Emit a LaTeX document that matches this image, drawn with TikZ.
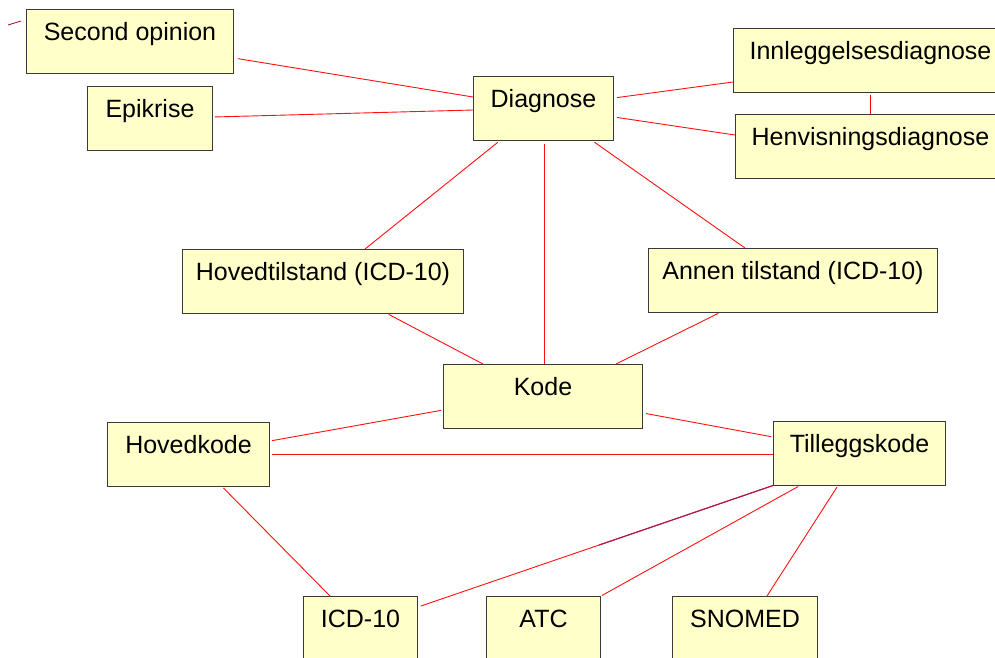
\documentclass[tikz,border=0pt]{standalone}
\usepackage{fontspec}
\setmainfont{Liberation Sans}
\usetikzlibrary{calc}
\definecolor{boxfill}{HTML}{FFFFCA}
\definecolor{boxline}{HTML}{3A3A3A}
\definecolor{linkred}{HTML}{FF1010}
\definecolor{linkdark}{HTML}{A8184C}
\tikzset{
  box/.style={draw=boxline, fill=boxfill, line width=1pt, rectangle,
    inner sep=0pt, text height=31pt, text depth=32.5pt, anchor=north west,
    font=\fontsize{25}{30}\selectfont},
  conn/.style={draw=linkred, line width=0.9pt},
  conndark/.style={draw=linkdark, line width=1.1pt}
}
\begin{document}
\begin{tikzpicture}[x=1pt, y=-1pt]
\clip (0,0) rectangle (995,657);
\fill[white] (0,0) rectangle (995,657);

% concept boxes
\node[box, minimum width=207pt] (so)     at (26,9)    {Second opinion};
\node[box, minimum width=125pt] (ep)     at (87,86)   {Epikrise};
\node[box, minimum width=140pt] (dg)     at (473,76)  {Diagnose};
\node[box, minimum width=274pt] (innl)   at (733,28)  {Innleggelsesdiagnose};
\node[box, minimum width=270pt] (henv)   at (735,114) {Henvisningsdiagnose};
\node[box, minimum width=281pt] (hovtil) at (182,249) {Hovedtilstand (ICD-10)};
\node[box, minimum width=289pt] (annen)  at (648,248) {Annen tilstand (ICD-10)};
\node[box, minimum width=199pt] (kode)   at (443,364) {Kode};
\node[box, minimum width=162pt] (hovk)   at (107,422) {Hovedkode};
\node[box, minimum width=172pt] (till)   at (773,421) {Tilleggskode};
\node[box, minimum width=114pt] (icd)    at (303,596) {ICD-10};
\node[box, minimum width=114pt] (atc)    at (486,596) {ATC};
\node[box, minimum width=145pt] (snomed) at (672,596) {SNOMED};

% loose link end on the left edge
\coordinate (strayA) at (8,25);
\coordinate (strayB) at (21,21);
\draw[conndark, line width=0.9pt] (strayA) -- (strayB);

% links around Diagnose
\draw[conn, shorten <=4pt] (so.east |- 0,58) -- (dg.west |- 0,97);
\draw[conn, shorten <=2pt] (ep.east |- 0,117) -- (dg.west |- 0,110);
\draw[conn, shorten <=3pt] (dg.east |- 0,98) -- (innl.west |- 0,82);
\draw[conn, shorten <=3pt] (dg.east |- 0,117) -- (henv.west |- 0,135);
\coordinate (innlB) at ([yshift=-2pt]innl.south);
\coordinate (henvT) at (henv.north);
\draw[draw=red, line width=1.3pt] (innlB) -- (innlB |- henvT);
\draw[conn, shorten <=3pt] (dg.south -| 500,0) -- (hovtil.north -| 365,0);
\draw[conn, shorten <=3pt] (dg.south -| 544,0) -- (kode.north -| 544,0);
\draw[conn, shorten <=3pt] (dg.south -| 592,0) -- (annen.north -| 745,0);

% links around Kode
\draw[conn, shorten <=2pt] (hovtil.south -| 387,0) -- (kode.north -| 483,0);
\draw[conn, shorten <=2pt] (annen.south -| 720,0) -- (kode.north -| 616,0);
\draw[conn, shorten <=2pt, shorten >=2pt] (kode.west |- 0,410) -- (hovk.east |- 0,441);
\draw[conn, shorten <=3pt, shorten >=2pt] (kode.east |- 0,413) -- (till.west |- 0,437);
\draw[conn, shorten <=2pt] (hovk.east |- 0,454) -- (till.west |- 0,454);

% links to the code systems
\draw[conn, shorten <=2pt] (hovk.south -| 222,0) -- (icd.north -| 330,0);
\coordinate (icdR) at (icd.east |- 0,607);
\draw[conn, shorten >=3pt] (till.south west) -- (icdR);
\draw[conndark] (till.south west) -- ($(till.south west)!0.49!(icdR)$);
\draw[conn, shorten <=2pt, shorten >=1pt] (till.south -| 800,0) -- (atc.north east);
\draw[conn, shorten <=2pt] (till.south -| 838,0) -- (snomed.north -| 767,0);
\end{tikzpicture}
\end{document}
